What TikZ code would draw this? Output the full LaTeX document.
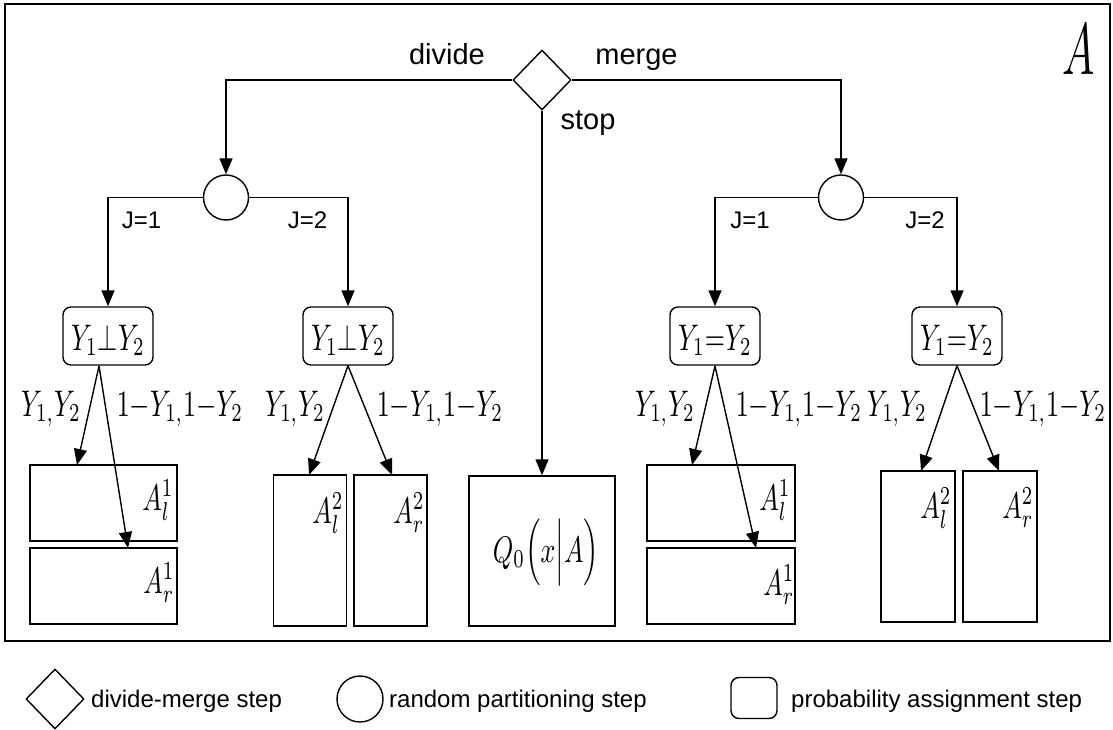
\documentclass[tikz,border=0pt]{standalone}
\usepackage[no-math]{fontspec}
\setmainfont{Liberation Sans}
\usetikzlibrary{shapes.geometric,arrows.meta,calc}
\begin{document}
\begin{tikzpicture}[x=1pt,y=-1pt,
  ln/.style={line width=1.4pt},
  arr/.style={line width=1.4pt,-{Triangle[length=16pt,width=13pt]}},
  box/.style={draw,line width=1.4pt,rectangle,inner sep=0pt},
  rbox/.style={draw,line width=1.4pt,rectangle,rounded corners=8pt,minimum width=90pt,minimum height=58pt,inner sep=0pt},
  circ/.style={draw,line width=1.4pt,circle,minimum size=45pt,inner sep=0pt},
  dia/.style={draw,line width=1.4pt,diamond,minimum width=58pt,minimum height=60pt,inner sep=0pt},
  lab/.style={font=\fontsize{29}{30}\selectfont,inner sep=0pt,anchor=base},
  jlab/.style={font=\fontsize{24}{26}\selectfont,inner sep=0pt,anchor=base},
  leg/.style={font=\fontsize{24}{26}\selectfont,inner sep=0pt,anchor=base west},
  mth/.style={inner sep=0pt,anchor=base,xscale=2.6,yscale=3.7,font=\normalsize},
]
\useasboundingbox (0,0) rectangle (1113,730);
\node[draw,line width=1.4pt,minimum width=1105pt,minimum height=637pt,inner sep=0pt] (frame) at (557.5,322.5) {};
\node[inner sep=0pt,anchor=base,xscale=4.3,yscale=7.3,font=\normalsize] (bigA) at (1079,75) {$A$};

% top decision
\node[dia] (d) at (542,80) {};
\node[lab] (ldiv) at (447,65) {divide};
\node[lab] (lmer) at (636.5,65) {merge};
\node[lab] (lstop) at (588,130) {stop};

% partition circles
\node[circ] (c1) at (226,197.5) {};
\node[circ] (c2) at (841,197.5) {};
\draw[arr] (d.west) -| (c1.north);
\draw[arr] (d.east) -| (c2.north);

% rounded boxes
\node[rbox] (b1) at (108,336) {};
\node[rbox] (b2) at (348,336) {};
\node[rbox] (b3) at (715,336) {};
\node[rbox] (b4) at (957,336) {};
\node[mth] (t1) at (108,350) {$Y_1{\perp}Y_2$};
\node[mth] (t2) at (348,350) {$Y_1{\perp}Y_2$};
\node[mth] (t3) at (715,350) {$Y_1{=}Y_2$};
\node[mth] (t4) at (957,350) {$Y_1{=}Y_2$};

\draw[arr] (c1.west) -| (b1.north);
\draw[arr] (c1.east) -| (b2.north);
\draw[arr] (c2.west) -| (b3.north);
\draw[arr] (c2.east) -| (b4.north);
\node[jlab] (j11) at (141.5,229) {J=1};
\node[jlab] (j12) at (307.5,229) {J=2};
\node[jlab] (j21) at (750,229) {J=1};
\node[jlab] (j22) at (925,229) {J=2};

% leaf boxes
\node[box,minimum width=147pt,minimum height=76pt] (al1) at (103.5,503) {};
\node[box,minimum width=147pt,minimum height=76pt] (ar1) at (103.5,586) {};
\node[box,minimum width=73pt,minimum height=151pt] (al2) at (310,550.5) {};
\node[box,minimum width=73pt,minimum height=151pt] (ar2) at (390.5,550.5) {};
\node[box,minimum width=146pt,minimum height=150pt] (q0) at (542,551) {};
\node[box,minimum width=148pt,minimum height=76pt] (al3) at (721,503) {};
\node[box,minimum width=148pt,minimum height=76pt] (ar3) at (721,586) {};
\node[box,minimum width=74pt,minimum height=151pt] (al4) at (918,546.5) {};
\node[box,minimum width=74pt,minimum height=151pt] (ar4) at (1000,546.5) {};

\node[mth] (xal1) at (158,510) {$A_l^1$};
\node[mth] (xar1) at (159,593) {$A_r^1$};
\node[mth] (xal2) at (328,523) {$A_l^2$};
\node[mth] (xar2) at (409,523) {$A_r^2$};
\node[mth] (xq0) at (546,562) {$Q_0\Bigl(x\Big|A\Bigr)$};
\node[mth] (xal3) at (775,510) {$A_l^1$};
\node[mth] (xar3) at (779,595) {$A_r^1$};
\node[mth] (xal4) at (936,518) {$A_l^2$};
\node[mth] (xar4) at (1018,518) {$A_r^2$};

\draw[arr] (d.south) -- (q0.north);

% arrow tips
\coordinate (p1) at (99,366);
\coordinate (p3) at (715,366);
\coordinate (e1l) at (77,465);
\coordinate (e1r) at (128,548);
\coordinate (e2l) at (309,475);
\coordinate (e2r) at (392,475);
\coordinate (e3l) at (692,465);
\coordinate (e3r) at (756,548);
\coordinate (e4l) at (921,471);
\coordinate (e4r) at (999,471);
\draw[arr] (p1) -- (e1l);
\draw[arr] (p1) -- (e1r);
\draw[arr] (b2.south) -- (e2l);
\draw[arr] (b2.south) -- (e2r);
\draw[arr] (p3) -- (e3l);
\draw[arr] (p3) -- (e3r);
\draw[arr] (b4.south) -- (e4l);
\draw[arr] (b4.south) -- (e4r);

% edge labels
\node[mth] (y1a) at (51,416) {$Y_{1,}Y_2$};
\node[mth] (y1b) at (180,416) {$1{-}Y_{1,}1{-}Y_2$};
\node[mth] (y2a) at (295,416) {$Y_{1,}Y_2$};
\node[mth] (y2b) at (440,416) {$1{-}Y_{1,}1{-}Y_2$};
\node[mth] (y3a) at (665,416) {$Y_{1,}Y_2$};
\node[mth] (y3b) at (799,416) {$1{-}Y_{1,}1{-}Y_2$};
\node[mth] (y4a) at (897,416) {$Y_{1,}Y_2$};
\node[mth] (y4b) at (1043,416) {$1{-}Y_{1,}1{-}Y_2$};

% legend
\node[dia] (ld) at (55,699) {};
\node[leg] (ldt) at (91,707) {divide-merge step};
\node[circ,minimum size=46pt] (lc) at (360,699) {};
\node[leg] (lct) at (389,707) {random partitioning step};
\node[draw,line width=1.4pt,rounded corners=8pt,minimum width=46pt,minimum height=41pt,inner sep=0pt] (lr) at (754,698) {};
\node[leg] (lrt) at (791,707) {probability assignment step};
\end{tikzpicture}
\end{document}
